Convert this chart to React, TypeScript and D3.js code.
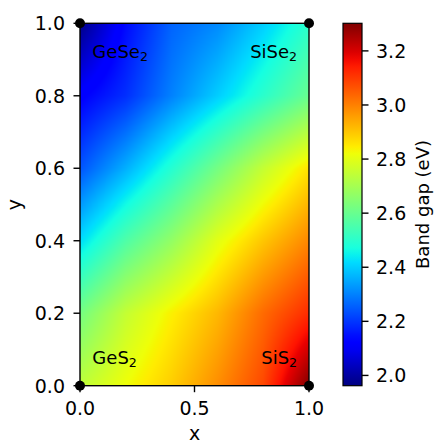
import React, { useMemo } from "react";
import * as d3 from "d3";

// grid of band gaps, rows from y=0 up to y=1
const gridX = [0, 0.2, 0.4, 0.6, 0.8, 1.0];
const gridY = [0, 0.2, 0.4, 0.6, 0.8, 1.0];
const bandGap = [
  [2.74, 2.82, 2.89, 2.98, 3.08, 3.3],
  [2.62, 2.75, 2.84, 2.92, 3.03, 3.12],
  [2.42, 2.56, 2.67, 2.8, 2.9, 2.99],
  [2.24, 2.36, 2.49, 2.62, 2.75, 2.86],
  [2.12, 2.19, 2.3, 2.4, 2.5, 2.6],
  [1.97, 2.14, 2.26, 2.31, 2.4, 2.5],
];

const corners = [
  { base: "GeSe", x: 0, y: 1 },
  { base: "SiSe", x: 1, y: 1 },
  { base: "GeS", x: 0, y: 0 },
  { base: "SiS", x: 1, y: 0 },
];

const xTicks = [0, 0.5, 1.0];
const yTicks = [0, 0.2, 0.4, 0.6, 0.8, 1.0];
const cbTicks = [2.0, 2.2, 2.4, 2.6, 2.8, 3.0, 3.2];
const vmin = 1.962;
const vmax = 3.302;

// matplotlib "jet"
const red = d3.scaleLinear().domain([0, 0.35, 0.66, 0.89, 1]).range([0, 0, 1, 1, 0.5]).clamp(true);
const green = d3.scaleLinear().domain([0, 0.125, 0.375, 0.64, 0.91, 1]).range([0, 0, 1, 1, 0, 0]).clamp(true);
const blue = d3.scaleLinear().domain([0, 0.11, 0.34, 0.65, 1]).range([0.5, 1, 1, 0, 0]).clamp(true);
const jet = (t: number) => [red(t) * 255, green(t) * 255, blue(t) * 255];

const font = "DejaVu Sans, sans-serif";
const fs = 19;
const labelFs = 18;

export default function App() {
  const left = 80, right = 309, top = 23.3, bottom = 385.7;
  const cbLeft = 343, cbRight = 362;

  const x = d3.scaleLinear().domain([0, 1]).range([left, right]);
  const y = d3.scaleLinear().domain([0, 1]).range([bottom, top]);
  const norm = d3.scaleLinear().domain([vmin, vmax]).range([0, 1]);
  const cb = d3.scaleLinear().domain([vmin, vmax]).range([bottom, top]);

  const href = useMemo(() => {
    const w = Math.round(right - left), h = Math.round(bottom - top);
    const canvas = document.createElement("canvas");
    canvas.width = w;
    canvas.height = h;
    const ctx = canvas.getContext("2d")!;
    const img = ctx.createImageData(w, h);
    const n = gridX.length - 1;
    const m = gridY.length - 1;
    for (let j = 0; j < h; j++) {
      const fy = (1 - (j + 0.5) / h) * m;
      const j0 = Math.min(m - 1, Math.floor(fy)), ty = fy - j0;
      for (let i = 0; i < w; i++) {
        const fx = ((i + 0.5) / w) * n;
        const i0 = Math.min(n - 1, Math.floor(fx)), tx = fx - i0;
        const v =
          bandGap[j0][i0] * (1 - tx) * (1 - ty) +
          bandGap[j0][i0 + 1] * tx * (1 - ty) +
          bandGap[j0 + 1][i0] * (1 - tx) * ty +
          bandGap[j0 + 1][i0 + 1] * tx * ty;
        const [r, g, b] = jet(norm(v));
        const k = (j * w + i) * 4;
        img.data[k] = r;
        img.data[k + 1] = g;
        img.data[k + 2] = b;
        img.data[k + 3] = 255;
      }
    }
    ctx.putImageData(img, 0, 0);
    return canvas.toDataURL();
  }, []);

  const stops = d3.range(0, 1.0001, 0.02);

  return (
    <svg width={435} height={444} style={{ position: "absolute", left: 0, top: 0 }} fontFamily={font}>
      <defs>
        <linearGradient id="jet" x1="0" y1="1" x2="0" y2="0">
          {stops.map((t) => {
            const [r, g, b] = jet(t);
            return <stop key={t} offset={t} stopColor={d3.rgb(r, g, b).formatHex()} />;
          })}
        </linearGradient>
      </defs>

      <image href={href} x={left} y={top} width={right - left} height={bottom - top} preserveAspectRatio="none" />
      <rect x={left} y={top} width={right - left} height={bottom - top} fill="none" stroke="#000" strokeWidth={1.4} />

      {xTicks.map((t) => (
        <g key={t}>
          <line x1={x(t)} x2={x(t)} y1={bottom} y2={bottom + 6.5} stroke="#000" strokeWidth={1.4} />
          <text x={x(t)} y={415} textAnchor="middle" fontSize={fs}>{t.toFixed(1)}</text>
        </g>
      ))}
      {yTicks.map((t) => (
        <g key={t}>
          <line x1={left - 6.5} x2={left} y1={y(t)} y2={y(t)} stroke="#000" strokeWidth={1.4} />
          <text x={65} y={y(t)} dy="0.36em" textAnchor="end" fontSize={fs}>{t.toFixed(1)}</text>
        </g>
      ))}
      <text x={(left + right) / 2} y={440} textAnchor="middle" fontSize={fs}>x</text>
      <text transform={`translate(21,${(top + bottom) / 2}) rotate(-90)`} textAnchor="middle" fontSize={fs}>y</text>

      {corners.map((c) => {
        const isLeft = c.x === 0;
        return (
          <text
            key={c.base}
            x={isLeft ? x(0.054) : x(0.948)}
            y={c.y === 1 ? 57.7 : 364}
            textAnchor={isLeft ? "start" : "end"}
            fontSize={labelFs}
          >
            {c.base}
            <tspan fontSize={labelFs * 0.7} dy={3}>2</tspan>
          </text>
        );
      })}

      {corners.map((c) => (
        <circle key={"d" + c.base} cx={x(c.x)} cy={y(c.y)} r={5} fill="#000" />
      ))}

      <rect x={cbLeft} y={top} width={cbRight - cbLeft} height={bottom - top} fill="url(#jet)" stroke="#000" strokeWidth={1.2} />
      {cbTicks.map((t) => (
        <g key={t}>
          <line x1={cbRight} x2={cbRight + 6.5} y1={cb(t)} y2={cb(t)} stroke="#000" strokeWidth={1.4} />
          <text x={376} y={cb(t)} dy="0.36em" fontSize={fs}>{t.toFixed(1)}</text>
        </g>
      ))}
      <text transform={`translate(429,${(top + bottom) / 2}) rotate(-90)`} textAnchor="middle" fontSize={labelFs}>
        Band gap (eV)
      </text>
    </svg>
  );
}
